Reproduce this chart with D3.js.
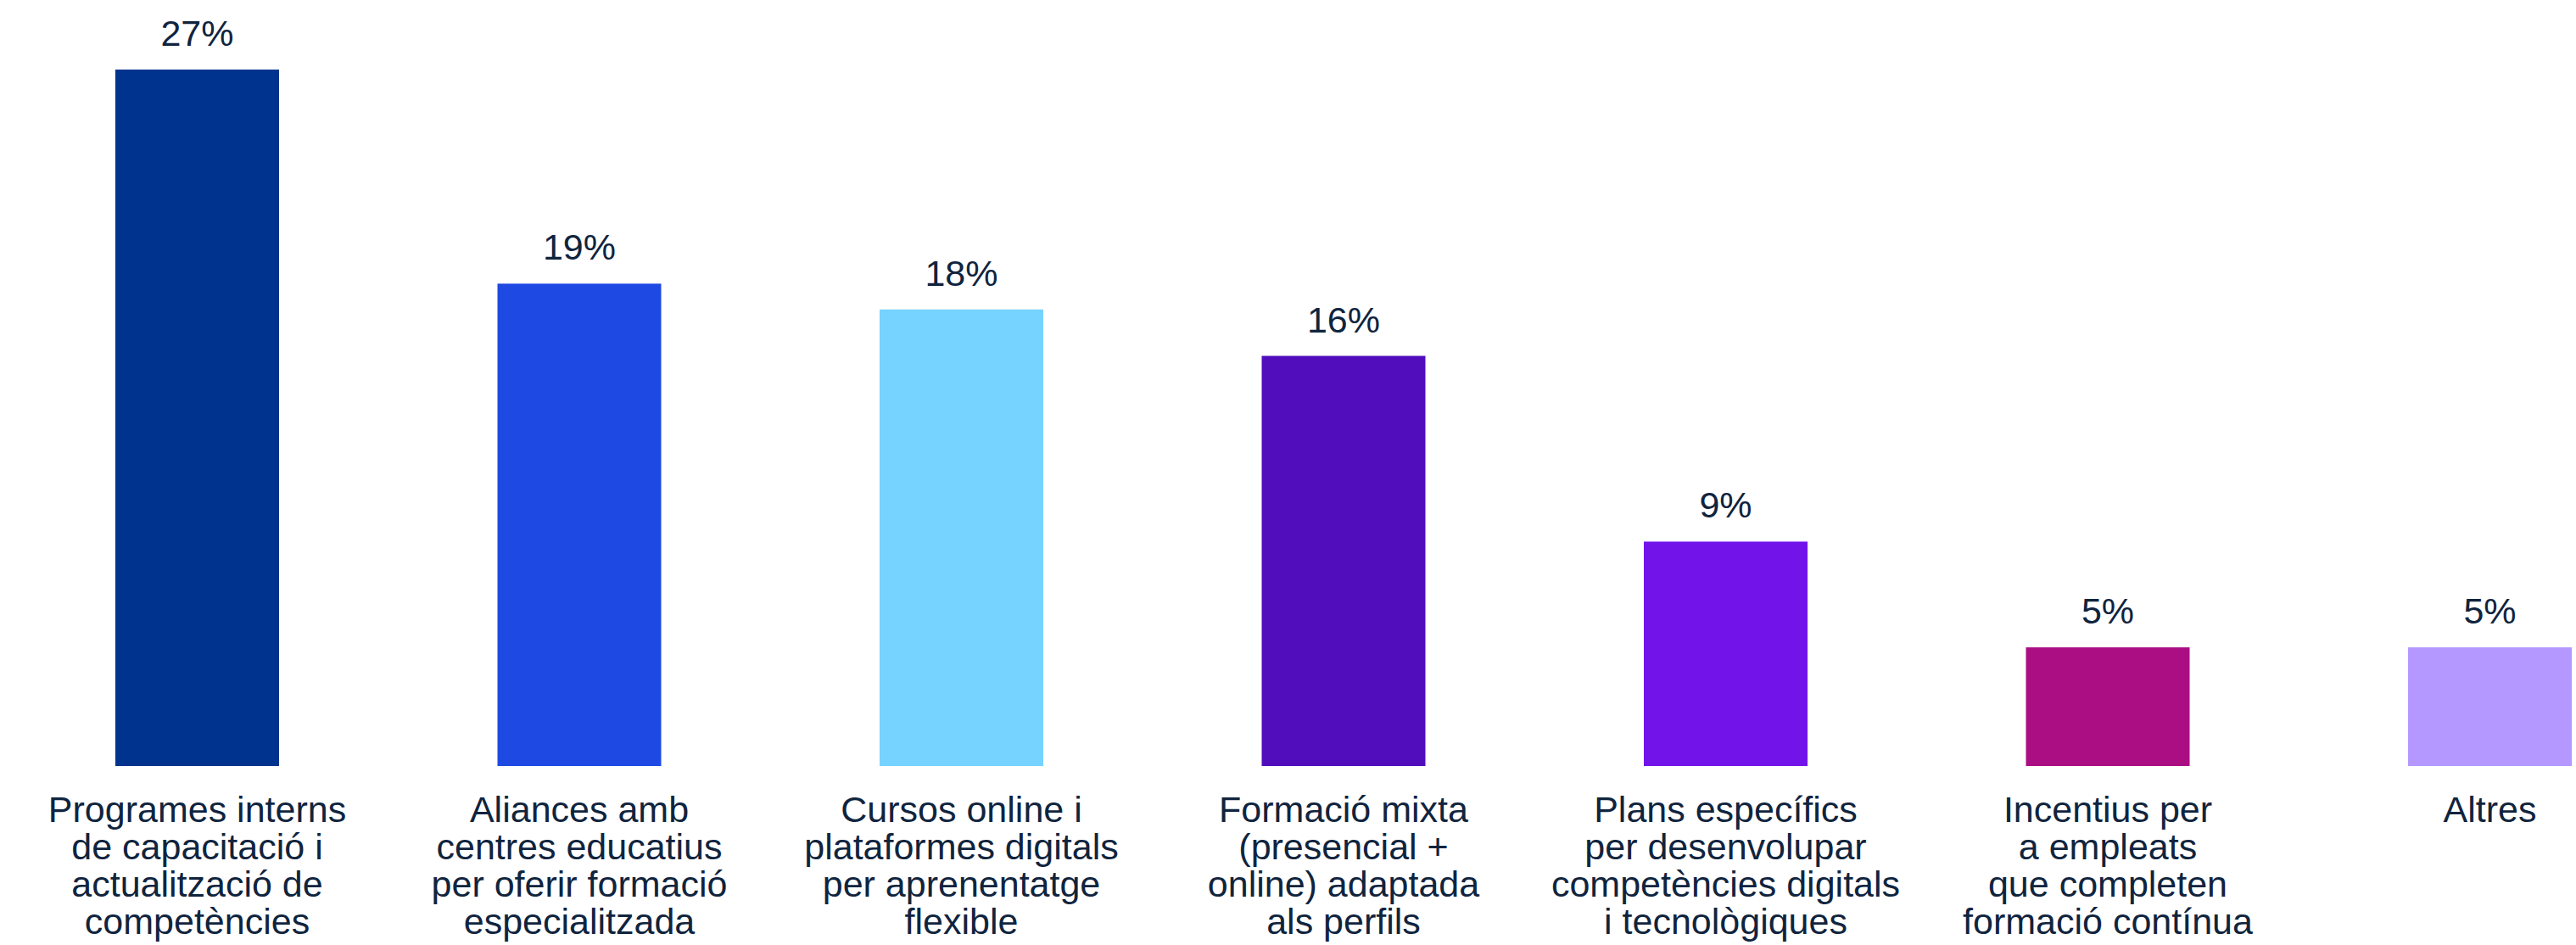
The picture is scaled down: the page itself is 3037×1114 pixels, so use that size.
<!DOCTYPE html>
<html>
<head>
<meta charset="utf-8">
<script src="https://cdn.jsdelivr.net/npm/d3@7"></script>
<style>
  html, body { margin: 0; padding: 0; background: #ffffff; }
  svg { display: block; }
  text { font-family: "Liberation Sans", Arial, sans-serif; fill: #10243e; }
</style>
</head>
<body>
<svg id="chart" width="3037" height="1114"></svg>
<script>
const categories = [
  "Programes interns\nde capacitació i\nactualització de\ncompetències",
  "Aliances amb\ncentres educatius\nper oferir formació\nespecialitzada",
  "Cursos online i\nplataformes digitals\nper aprenentatge\nflexible",
  "Formació mixta\n(presencial +\nonline) adaptada\nals perfils",
  "Plans específics\nper desenvolupar\ncompetències digitals\ni tecnològiques",
  "Incentius per\na empleats\nque completen\nformació contínua",
  "Altres"
];
const values = [0.27, 0.187, 0.177, 0.159, 0.087, 0.046, 0.046];
const colors = ["#00338D", "#1E49E2", "#76D2FF", "#510DBC", "#7213EA", "#AB0D82", "#B497FF"];

const svg = d3.select("#chart");
const baseY = 903, topY = 82;

const x = d3.scaleBand()
  .domain(categories)
  .range([7.25, 3160.75])
  .paddingInner(0.5716)
  .paddingOuter(0.2858);

const y = d3.scaleLinear()
  .domain([0, d3.max(values)])
  .range([baseY, topY]);

const fmt = d3.format(".0%");
const data = categories.map((c, i) => ({ c, v: values[i], color: colors[i] }));

svg.append("g").selectAll("rect")
  .data(data)
  .join("rect")
  .attr("x", d => x(d.c))
  .attr("y", d => y(d.v))
  .attr("width", x.bandwidth())
  .attr("height", d => baseY - y(d.v))
  .attr("fill", d => d.color);

svg.append("g").selectAll("text")
  .data(data)
  .join("text")
  .attr("x", d => x(d.c) + x.bandwidth() / 2)
  .attr("y", d => y(d.v) - 28)
  .attr("text-anchor", "middle")
  .attr("font-size", 43)
  .text(d => fmt(d.v));

const xAxis = d3.axisBottom(x).tickSize(0).tickFormat("");
const axisG = svg.append("g")
  .attr("transform", `translate(0,${baseY})`)
  .call(xAxis);
axisG.select(".domain").remove();

axisG.selectAll(".tick").each(function(d) {
  const t = d3.select(this).append("text")
    .attr("text-anchor", "middle")
    .attr("font-size", 43)
    .attr("y", 66)
    .style("fill", "#10243e");
  d.split("\n").forEach((line, i) => {
    t.append("tspan").attr("x", 0).attr("dy", i === 0 ? 0 : 44).text(line);
  });
});
</script>
</body>
</html>
